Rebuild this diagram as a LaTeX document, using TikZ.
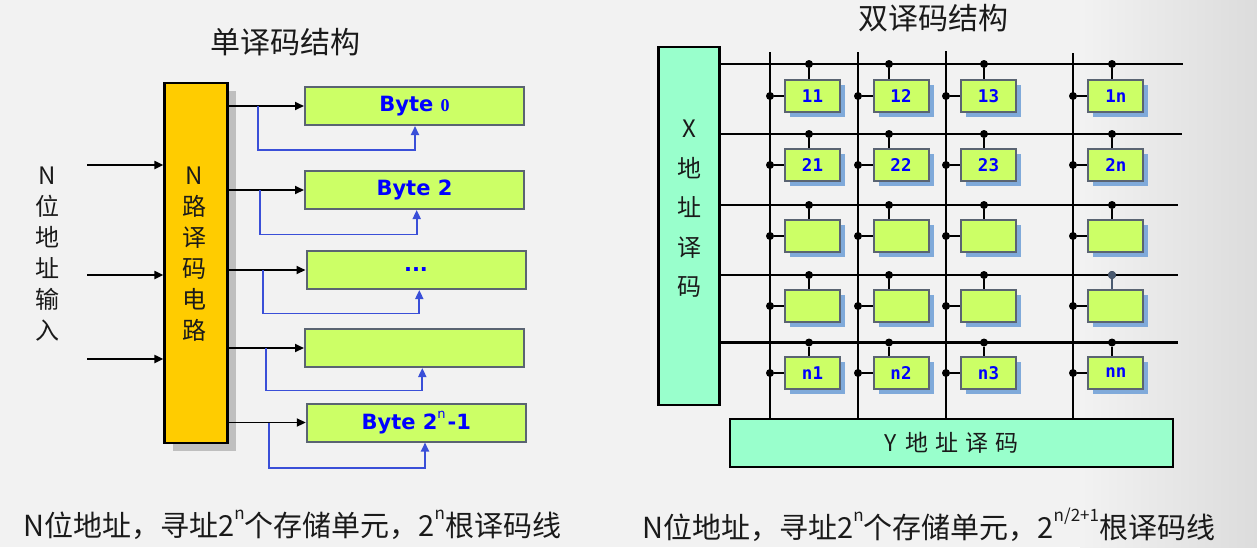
\documentclass[tikz,border=0pt]{standalone}
\usepackage{fontspec}
\setmainfont{Noto Sans CJK SC}
\newfontfamily\bytefont{DejaVu Sans}
\newfontfamily\cellfont{DejaVu Sans Mono}
\newfontfamily\zerofont{Liberation Serif}
\usetikzlibrary{arrows.meta,shadows}
\definecolor{bg}{HTML}{F2F2F2}
\definecolor{bgdark}{HTML}{DCDCDC}
\definecolor{decor}{HTML}{FFCC00}
\definecolor{lime}{HTML}{CCFF66}
\definecolor{aqua}{HTML}{99FFCC}
\definecolor{cellborder}{HTML}{5A6472}
\definecolor{cellshadow}{HTML}{80AADA}
\definecolor{bluearrow}{HTML}{3A4FD8}
\definecolor{txtblue}{HTML}{0000FF}
\definecolor{txt}{HTML}{1A1A1A}
\definecolor{graydot}{HTML}{4A5A70}
\newcommand{\mysup}[1]{\raisebox{0.6em}{\fontsize{17}{17}\selectfont #1}}
\newcommand{\bsup}[1]{\raisebox{0.55em}{\normalfont\bytefont\fontsize{13}{13}\selectfont #1}\kern2pt}
\tikzset{
  decoder/.style={draw=black, line width=2.2pt, fill=decor,
    general shadow={fill=black!25, shadow xshift=8pt, shadow yshift=-8pt},
    minimum width=63pt, minimum height=360pt, inner sep=0},
  bytebox/.style={draw=cellborder, line width=2pt, fill=lime,
    minimum width=219pt, minimum height=38pt, inner sep=0,
    font=\bytefont\bfseries\fontsize{21}{24}\selectfont, text=txtblue},
  cell/.style={draw=cellborder, line width=2pt, fill=lime,
    general shadow={fill=cellshadow, shadow xshift=5pt, shadow yshift=-5pt},
    minimum width=55pt, minimum height=32pt, inner sep=0,
    font=\cellfont\bfseries\fontsize{17.5}{20}\selectfont, text=txtblue},
  addrdec/.style={draw=black, line width=2.8pt, fill=aqua, inner sep=0},
  arr/.style={-{Triangle[length=9pt,width=8pt]}, line width=1.9pt, draw=black},
  barr/.style={-{Triangle[length=9pt,width=8pt]}, line width=1.8pt, draw=bluearrow},
  wire/.style={line width=2.2pt, draw=black},
  dot/.style={circle, fill=black, inner sep=0, minimum size=8pt},
  vlabel/.style={align=center, inner sep=0, text=txt, font=\fontsize{24}{31}\selectfont},
}
\begin{document}
\begin{tikzpicture}[x=1pt,y=-1pt]
\useasboundingbox (0,0) rectangle (1257,547);
\fill[bg] (0,0) rectangle (1257,547);
\shade[left color=bg, right color=bgdark] (1080,0) rectangle (1257,547);

% ---------- left: single decoding ----------
\node[inner sep=0, text=txt, font=\fontsize{30}{36}\selectfont] (title1) at (285,42) {单译码结构};
\node[decoder] (dec) at (196,262.7) {};
\node[vlabel] (dectext) at (194,254) {N\\路\\译\\码\\电\\路};
\node[vlabel] (inlabel) at (47,254) {N\\位\\地\\址\\输\\入};

\coordinate (in1) at (87,165);
\coordinate (in2) at (87,275);
\coordinate (in3) at (87,359);
\foreach \i in {1,2,3} \draw[arr] (in\i) -- (in\i -| dec.west);

\node[bytebox] (b0) at (414.5,106) {Byte {\zerofont\fontsize{18}{20}\selectfont 0}};
\node[bytebox] (b1) at (414.5,190) {Byte 2};
\node[bytebox] (b2) at (416,270) {...};
\node[bytebox] (b3) at (414.5,348) {};
\node[bytebox] (b4) at (416.3,422.5) {Byte 2\bsup{n}-1};

\coordinate (bl0) at (258,150);
\coordinate (bl1) at (260,234.5);
\coordinate (bl2) at (263,313.5);
\coordinate (bl3) at (266,390.5);
\coordinate (bl4) at (268.7,468);
\foreach \i/\dx in {0/0.5,1/2.2,2/3.3,3/7.8,4/8.7} {
  \draw[arr] (b\i.west -| dec.east) -- (b\i.west);
  \draw[barr] (b\i.west -| bl\i) -- (bl\i) -| ([xshift=\dx pt]b\i.south);
}

% ---------- right: double decoding ----------
\node[inner sep=0, text=txt, font=\fontsize{30}{36}\selectfont] (title2) at (933,18) {双译码结构};
\node[addrdec, minimum width=61pt, minimum height=358pt] (xd) at (689,226) {};
\node[align=center, inner sep=0, text=txt, font=\fontsize{24}{39.5}\selectfont] (xtext) at (689,209) {X\\地\\址\\译\\码};
\node[addrdec, minimum width=443pt, minimum height=48pt, text=txt, font=\fontsize{23}{26}\selectfont] (yd) at (951.5,443) {Y\kern8pt 地\kern7pt 址\kern7pt 译\kern7pt 码};

\coordinate (w1) at (1183,64);
\coordinate (w2) at (1182,134);
\coordinate (w3) at (1178,205);
\coordinate (w4) at (1178,275);
\coordinate (w5) at (1178,342.5);
\foreach \i in {1,...,5} \draw[wire] (w\i -| xd.east) -- (w\i);

\coordinate (v1) at (770,52);
\coordinate (v2) at (858,52);
\coordinate (v3) at (946,51);
\coordinate (v4) at (1073,53);
\foreach \i in {1,...,4} \draw[wire] (v\i) -- (v\i |- yd.north);

\foreach \r/\y/\la/\lb/\lc/\ld in {1/96/11/12/13/1n, 2/165/21/22/23/2n, 3/236/{}/{}/{}/{}, 4/306/{}/{}/{}/{}, 5/373/n1/n2/n3/nn} {
  \node[cell] (c\r1) at (812.5,\y) {\la};
  \node[cell] (c\r2) at (901,\y) {\lb};
  \node[cell] (c\r3) at (988.5,\y) {\lc};
  \node[cell] (c\r4) at (1115.8,\y) {\ld};
}
\foreach \r in {1,...,5} {
  \foreach \c/\dx in {1/809,2/889,3/984,4/1112} {
    \node[dot] (t\r\c) at (w\r -| \dx,0) {};
    \draw[wire] (t\r\c) -- (t\r\c |- c\r\c.north);
    \node[dot] (l\r\c) at (c\r\c.west -| v\c) {};
    \draw[wire] (l\r\c) -- (c\r\c.west);
  }
}
\draw[line width=2.2pt, draw=graydot] (t44) -- (t44 |- c44.north);
\node[dot, fill=graydot] (t44g) at (t44) {};

% ---------- bottom captions ----------
\node[anchor=west, inner sep=0, text=txt, font=\fontsize{29}{32}\selectfont] (cap1) at (23,525)
  {N位地址，寻址2\mysup{n}个存储单元，2\mysup{n}根译码线};
\node[anchor=west, inner sep=0, text=txt, font=\fontsize{29}{32}\selectfont] (cap2) at (642,525)
  {N位地址，寻址2\mysup{n}个存储单元，2\mysup{n/2+1}根译码线};
\end{tikzpicture}
\end{document}
